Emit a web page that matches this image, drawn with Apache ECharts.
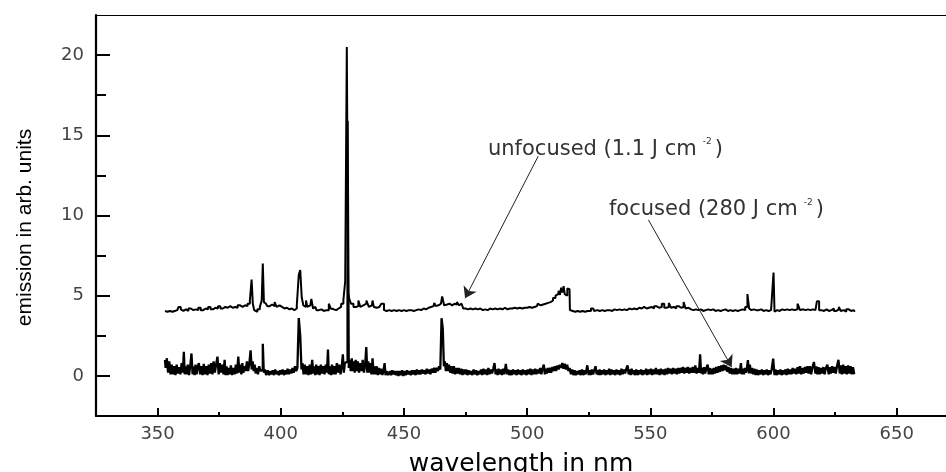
<!DOCTYPE html>
<html>
<head>
<meta charset="utf-8">
<script src="https://cdn.jsdelivr.net/npm/echarts@6/dist/echarts.min.js"></script>
<style>
html,body{margin:0;padding:0;background:#fff;}
#chart{width:946px;height:472px;}
</style>
</head>
<body>
<div id="chart"></div>
<script>
// ---- data (wavelength nm, emission arb. units) ----
const unfocused = [
[353,4.05],[354,4.0],[355,4.05],[356,4.0],[357,4.05],[358,4.1],[359,4.3],[359.8,4.15],[360.5,4.05],[361,4.15],
[362,4.05],[363,4.2],[364,4.1],[365,4.15],[366,4.1],[367,4.25],[368,4.1],[369,4.2],[370,4.15],[371,4.3],
[372,4.15],[373,4.25],[374,4.2],[375,4.35],[376,4.2],[377,4.3],[378,4.25],[379,4.35],[380,4.25],[381,4.3],
[382,4.25],[383,4.4],[384,4.3],[385,4.4],[386,4.35],[387,4.5],[387.9,4.7],[388.4,6.0],[388.9,4.5],[389.5,4.1],
[390,4.0],[391,4.15],[392,4.3],[392.5,4.7],[392.9,7.0],[393.4,4.6],[394,4.5],[395,4.35],[396,4.45],[397,4.35],
[398,4.6],[398.6,4.3],[399,4.4],[400,4.3],[401,4.2],[402,4.25],[403,4.15],[404,4.2],[405,4.1],[406,4.2],
[407,4.4],[407.6,6.3],[408.2,6.6],[408.8,4.9],[409.5,4.4],[410,4.3],[410.5,4.7],[411,4.3],[412,4.4],[412.8,4.8],
[413.4,4.2],[414,4.3],[415,4.1],[416,4.15],[417,4.05],[418,4.1],[419,4.1],[420,4.5],[420.6,4.2],[421,4.15],
[422,4.1],[423,4.2],[424,4.3],[425,4.5],[425.8,4.7],[426.5,5.9],[427.1,20.5],[427.6,5.2],[428,4.8],[429,4.5],
[430,4.3],[431,4.35],[432,4.7],[432.6,4.3],[433,4.4],[434,4.5],[435.5,4.7],[436,4.3],[437,4.4],[437.5,4.7],
[438,4.3],[439,4.25],[440,4.3],[441.6,4.5],[442.2,4.1],[443,4.05],[444,4.1],[445,4.05],[446,4.1],[447,4.05],
[448,4.1],[449,4.05],[450,4.1],[451,4.05],[452,4.1],[453,4.1],[454,4.05],[455,4.1],[456,4.15],[457,4.1],
[458,4.2],[459,4.15],[460,4.25],[461,4.3],[462,4.35],[462.6,4.55],[463.2,4.35],[464,4.4],[465,4.5],[466,4.95],
[466.6,4.4],[467,4.45],[468,4.5],[469,4.6],[469.6,4.4],[470,4.5],[471,4.45],[472,4.6],[472.6,4.4],[473,4.5],
[473.8,4.6],[474.3,4.2],[475,4.2],[476,4.15],[477,4.2],[478,4.15],[479,4.2],[480,4.15],[481,4.2],[482,4.1],
[483,4.15],[484,4.1],[485,4.2],[486,4.15],[487,4.2],[488,4.15],[489,4.2],[490,4.15],[491,4.25],[492,4.15],
[493,4.2],[494,4.2],[495,4.25],[496,4.2],[497,4.25],[498,4.2],[499,4.25],[500,4.25],[501,4.3],[502,4.25],
[503,4.3],[504,4.35],[504.5,4.5],[505,4.4],[506,4.45],[507,4.5],[508,4.55],[509,4.6],[510,4.7],[511,4.85],
[512,5.0],[512.6,5.1],[513,5.3],[513.6,5.05],[514,5.5],[514.6,5.2],[515,5.6],[515.5,5.1],[516,5.0],[516.6,5.45],
[517.2,5.4],[517.5,4.1],[518,4.05],[519,4.0],[520,4.05],[521,4.0],[522,4.05],[523,4.0],[524,4.05],[525,4.05],
[526.8,4.2],[527.5,4.05],[528,4.1],[529,4.05],[530,4.1],[531,4.05],[532,4.1],[533,4.1],[534,4.05],[535,4.15],
[536,4.1],[537,4.15],[538,4.1],[539,4.15],[540,4.1],[541,4.2],[542,4.15],[543,4.2],[544,4.15],[545,4.25],
[546,4.2],[547,4.3],[548,4.2],[549,4.25],[550,4.3],[551,4.2],[552,4.35],[553,4.25],[554,4.3],[555.3,4.5],
[556,4.25],[557,4.3],[558,4.55],[558.6,4.25],[559,4.3],[560,4.2],[561,4.35],[562,4.25],[563,4.3],[564,4.6],
[564.6,4.2],[565,4.25],[566,4.15],[567,4.1],[568,4.15],[569,4.1],[570,4.15],[571,4.05],[572,4.1],[573,4.15],
[574,4.1],[575,4.15],[576,4.05],[577,4.1],[578,4.05],[579,4.1],[580,4.15],[581,4.05],[582,4.1],[583,4.05],
[584,4.1],[585,4.05],[586,4.1],[587,4.15],[588,4.1],[589,4.3],[589.8,5.1],[590.4,4.2],[591,4.1],[592,4.15],
[593,4.1],[594,4.1],[595,4.15],[596,4.05],[597,4.1],[598,4.05],[599,4.1],[599.8,4.05],[600.2,6.45],[600.6,4.0],
[601,4.1],[602,4.05],[603,4.15],[604,4.1],[605,4.15],[606,4.1],[607,4.15],[608,4.1],[609,4.15],[610.5,4.5],
[611,4.1],[612,4.15],[613,4.1],[614,4.15],[615,4.1],[616,4.15],[617,4.1],[618.2,4.65],[618.8,4.1],[619,4.1],
[620,4.05],[621,4.15],[622,4.05],[623,4.1],[624,4.2],[625,4.05],[626,4.15],[627,4.3],[627.6,4.05],[628,4.1],
[629,4.0],[630,4.15],[631,4.05],[632,4.1],[633,4.0]
];

const focused = [
[353,1.0],[353.5,0.5],[354,1.1],[354.5,0.2],[355,0.9],[355.5,0.1],[356,0.7],[356.5,0.1],[357,0.6],[357.5,0.05],
[358,0.7],[358.5,0.15],[359,0.55],[359.5,0.1],[360,0.8],[360.5,0.2],[360.8,1.5],[361.2,0.1],[361.5,0.6],[362,0.1],
[362.5,0.7],[363,0.05],[363.5,0.6],[364,1.4],[364.4,0.1],[364.8,0.6],[365.2,0.05],[365.6,0.7],[366,0.1],[366.5,0.55],
[367,0.8],[367.5,0.1],[368,0.6],[368.5,0.05],[369,0.75],[369.5,0.1],[370,0.6],[370.5,0.05],[371,0.7],[371.5,0.15],
[372,0.8],[372.5,0.1],[373,0.9],[373.5,0.2],[374,0.7],[374.6,1.2],[375,0.1],[375.5,0.8],[376,0.2],[376.5,0.7],
[377,0.1],[377.4,1.0],[377.8,0.05],[378.2,0.6],[378.6,0.05],[379,0.5],[379.5,0.1],[380,0.65],[380.5,0.05],[381,0.5],
[381.5,0.1],[382,0.7],[382.5,0.15],[383,1.2],[383.4,0.2],[383.8,0.7],[384.2,0.1],[384.6,0.8],[385,0.2],[385.5,0.6],
[386,0.3],[386.5,0.9],[387,0.3],[387.5,0.8],[388,1.6],[388.4,0.4],[388.8,0.9],[389.2,0.3],[389.6,0.7],[390,0.15],
[390.5,0.5],[391,0.1],[391.5,0.6],[392,0.3],[392.5,0.4],[392.9,2.0],[393.3,0.2],[393.8,0.4],[394.3,0.05],[395,0.35],
[395.5,0.05],[396,0.3],[396.5,0.1],[397,0.35],[397.5,0.05],[398,0.4],[398.5,0.1],[399,0.3],[399.5,0.05],[400,0.35],
[400.5,0.1],[401,0.4],[401.5,0.05],[402,0.35],[402.5,0.1],[403,0.45],[403.5,0.1],[404,0.4],[404.5,0.15],[405,0.5],
[405.5,0.2],[406,0.6],[406.5,0.3],[407,0.5],[407.6,3.6],[408.2,2.5],[408.6,0.4],[409,0.8],[409.5,0.1],[410,0.7],
[410.5,0.1],[411,0.6],[411.5,0.05],[412,0.7],[412.5,0.1],[413,1.0],[413.4,0.15],[413.8,0.6],[414.2,0.05],[414.6,0.7],
[415,0.1],[415.5,0.6],[416,0.05],[416.5,0.7],[417,0.15],[417.5,0.6],[418,0.1],[418.5,0.7],[419,0.2],[419.3,1.65],
[419.7,0.1],[420.2,0.6],[420.6,0.05],[421,0.7],[421.5,0.1],[422,0.6],[422.5,0.1],[423,0.8],[423.5,0.2],[424,0.7],
[424.5,0.1],[425,0.6],[425.4,1.35],[425.8,0.2],[426.2,0.8],[426.8,0.9],[427.4,15.9],[427.8,0.5],[428.2,1.0],[428.6,0.3],
[429,1.1],[429.4,0.3],[429.8,0.9],[430.2,0.2],[430.6,1.0],[431,0.3],[431.5,0.9],[432,0.2],[432.5,0.8],[433,0.3],
[433.5,1.0],[434,0.2],[434.5,0.7],[434.9,1.8],[435.3,0.2],[435.7,0.9],[436.1,0.2],[436.6,0.8],[437,0.1],[437.5,1.1],
[437.9,0.1],[438.3,0.6],[438.7,0.1],[439.2,0.6],[439.6,0.05],[440,0.5],[440.5,0.1],[441,0.45],[441.5,0.05],[442,0.4],
[442.3,0.8],[442.7,0.05],[443.2,0.3],[444,0.05],[444.5,0.3],[445,0.05],[445.5,0.35],[446,0.1],[446.5,0.3],[447,0.05],
[447.5,0.3],[448,0.0],[448.5,0.3],[449,0.05],[449.5,0.35],[450,0.0],[450.5,0.3],[451,0.05],[451.5,0.35],[452,0.1],
[452.5,0.3],[453,0.05],[453.5,0.35],[454,0.1],[454.5,0.35],[455,0.05],[455.5,0.4],[456,0.1],[456.5,0.35],[457,0.1],
[457.5,0.4],[458,0.15],[458.5,0.35],[459,0.1],[459.5,0.45],[460,0.15],[460.5,0.4],[461,0.1],[461.5,0.45],[462,0.2],
[462.5,0.5],[463,0.2],[463.5,0.5],[464,0.3],[464.5,0.6],[465,0.4],[465.5,3.6],[466,2.95],[466.4,0.6],[466.8,0.9],
[467.2,0.3],[467.6,0.8],[468,0.3],[468.5,0.7],[469,0.2],[469.5,0.6],[470,0.15],[470.5,0.6],[471,0.1],[471.5,0.5],
[472,0.15],[472.5,0.5],[473,0.1],[473.5,0.45],[474,0.05],[474.5,0.4],[475,0.1],[475.5,0.4],[476,0.05],[476.5,0.35],
[477,0.1],[477.5,0.3],[478,0.05],[478.5,0.4],[479,0.1],[479.5,0.35],[480,0.05],[480.5,0.3],[481,0.1],[481.5,0.4],
[482,0.05],[482.5,0.45],[483,0.1],[483.5,0.4],[484,0.05],[484.5,0.5],[485,0.1],[485.5,0.4],[486,0.15],[486.5,0.45],
[487,0.8],[487.4,0.1],[487.8,0.4],[488.2,0.05],[488.6,0.45],[489,0.1],[489.5,0.4],[490,0.05],[490.5,0.45],[491,0.1],
[491.7,0.75],[492.1,0.1],[492.5,0.4],[493,0.05],[493.5,0.35],[494,0.05],[494.5,0.4],[495,0.1],[495.5,0.35],[496,0.05],
[496.5,0.4],[497,0.1],[497.5,0.35],[498,0.05],[498.5,0.4],[499,0.1],[499.5,0.35],[500,0.05],[500.5,0.4],[501,0.1],
[501.5,0.45],[502,0.05],[502.5,0.4],[503,0.1],[503.5,0.45],[504,0.1],[504.5,0.4],[505,0.15],[505.5,0.5],[506,0.1],
[506.5,0.45],[507,0.7],[507.4,0.1],[507.8,0.45],[508.2,0.15],[508.6,0.5],[509,0.2],[509.5,0.5],[510,0.2],[510.5,0.55],
[511,0.3],[511.5,0.6],[512,0.3],[512.5,0.65],[513,0.4],[513.5,0.7],[514,0.5],[514.5,0.8],[515,0.45],[515.5,0.75],
[516,0.4],[516.5,0.7],[517,0.3],[517.5,0.5],[518,0.1],[518.5,0.4],[519,0.05],[519.5,0.35],[520,0.05],[520.5,0.3],
[521,0.1],[521.5,0.35],[522,0.05],[522.5,0.4],[523,0.05],[523.5,0.35],[524,0.1],[524.8,0.66],[525.2,0.05],[525.6,0.35],
[526,0.05],[526.5,0.4],[527,0.1],[527.5,0.35],[528,0.6],[528.4,0.1],[528.8,0.35],[529.2,0.05],[529.6,0.4],[530,0.05],
[530.5,0.35],[531,0.1],[531.5,0.4],[532,0.05],[532.5,0.35],[533,0.1],[533.5,0.45],[534,0.05],[534.5,0.4],[535,0.1],
[535.5,0.35],[536,0.05],[536.5,0.4],[537,0.1],[537.5,0.35],[538,0.05],[538.5,0.45],[539,0.1],[539.5,0.4],[540,0.15],
[540.5,0.45],[541,0.66],[541.4,0.1],[541.8,0.4],[542.2,0.05],[542.6,0.45],[543,0.1],[543.5,0.35],[544,0.05],[544.5,0.4],
[545,0.05],[545.5,0.35],[546,0.1],[546.5,0.4],[547,0.05],[547.5,0.35],[548,0.1],[548.5,0.45],[549,0.05],[549.5,0.4],
[550,0.1],[550.5,0.45],[551,0.05],[551.5,0.4],[552,0.1],[552.5,0.5],[553,0.1],[553.5,0.4],[554,0.05],[554.5,0.45],
[555,0.1],[555.5,0.4],[556,0.05],[556.5,0.45],[557,0.1],[557.5,0.5],[558,0.15],[558.5,0.45],[559,0.1],[559.5,0.5],
[560,0.15],[560.5,0.45],[561,0.1],[561.5,0.5],[562,0.15],[562.5,0.5],[563,0.2],[563.5,0.55],[564,0.15],[564.5,0.5],
[565,0.2],[565.5,0.55],[566,0.15],[566.5,0.5],[567,0.2],[567.5,0.55],[568,0.2],[568.5,0.65],[569,0.15],[569.5,0.5],
[570,0.2],[570.4,1.34],[570.8,0.15],[571.2,0.5],[571.6,0.1],[572,0.55],[572.5,0.15],[573,0.5],[573.5,0.7],[573.9,0.1],
[574.3,0.5],[574.7,0.1],[575.1,0.45],[575.5,0.1],[576,0.5],[576.5,0.15],[577,0.55],[577.5,0.2],[578,0.6],[578.5,0.25],
[579,0.65],[579.5,0.3],[580,0.7],[580.5,0.35],[581,0.65],[581.5,0.25],[582,0.55],[582.5,0.15],[583,0.5],[583.5,0.1],
[584,0.45],[584.5,0.1],[585,0.5],[585.5,0.1],[586,0.45],[586.5,0.15],[587,0.8],[587.4,0.1],[587.8,0.45],[588.2,0.1],
[588.6,0.5],[589,0.2],[589.4,0.5],[589.8,0.98],[590.2,0.15],[590.6,0.7],[591,0.15],[591.5,0.5],[592,0.1],[592.5,0.45],
[593,0.05],[593.5,0.4],[594,0.05],[594.5,0.35],[595,0.1],[595.5,0.4],[596,0.05],[596.5,0.35],[597,0.1],[597.5,0.4],
[598,0.05],[598.5,0.35],[599,0.1],[599.5,0.4],[600.2,1.08],[600.6,0.05],[601,0.4],[601.5,0.05],[602,0.35],[602.5,0.1],
[603,0.4],[603.5,0.05],[604,0.35],[604.5,0.1],[605,0.4],[605.5,0.05],[606,0.45],[606.5,0.1],[607,0.4],[607.5,0.1],
[608,0.5],[608.5,0.15],[609,0.45],[609.5,0.1],[610,0.55],[610.5,0.15],[611,0.6],[611.5,0.1],[612,0.5],[612.5,0.15],
[613,0.55],[613.5,0.2],[614,0.6],[614.5,0.15],[615,0.6],[615.5,0.1],[616,0.5],[616.8,0.87],[617.2,0.15],[617.6,0.6],
[618,0.1],[618.5,0.55],[619,0.1],[619.5,0.5],[620,0.15],[620.5,0.55],[621,0.1],[621.5,0.5],[622.2,0.7],[622.6,0.1],
[623,0.55],[623.5,0.15],[624,0.6],[624.5,0.2],[625,0.55],[625.5,0.15],[626,0.6],[626.7,1.0],[627.1,0.15],[627.5,0.65],
[628,0.1],[628.5,0.7],[629,0.15],[629.5,0.6],[630,0.1],[630.5,0.65],[631,0.15],[631.5,0.6],[632,0.1],[632.5,0.55],
[633,0.1]
];

const xMajorTicks = [350, 400, 450, 500, 550, 600, 650];
const xMinorTicks = [375, 425, 475, 525, 575, 625];
const yMajorTicks = [0, 5, 10, 15, 20];
const yMinorTicks = [2.5, 7.5, 12.5, 17.5];

// annotation arrows: [from, to] in data coords
const arrowUnfocused = [[504.5, 13.7], [474.8, 4.84]];
const arrowFocused = [[549.2, 9.73], [583.0, 0.56]];
const labelUnfocusedAt = [484.1, 14.17];
const labelFocusedAt = [533.2, 10.42];

const chart = echarts.init(document.getElementById('chart'));
const tickFont = { fontFamily: 'DejaVu Sans', fontSize: 18, color: '#444' };
const annRich = {
  a: { fontFamily: 'DejaVu Sans', fontSize: 21, color: '#333', verticalAlign: 'bottom', lineHeight: 22 },
  s: { fontFamily: 'DejaVu Sans', fontSize: 9, color: '#333', verticalAlign: 'top', lineHeight: 10, padding: [0, 3, 20, 6] }
};

chart.setOption({
  backgroundColor: '#fff',
  animation: false,
  grid: { left: 96, right: 0, top: 15, bottom: 56, containLabel: false, outerBoundsMode: 'none' },
  xAxis: [
    {
      type: 'value', min: 325, max: 670, position: 'bottom',
      axisLine: { onZero: false, lineStyle: { color: '#000', width: 2.2 } },
      axisTick: { inside: true, length: 8, customValues: xMajorTicks, lineStyle: { color: '#000', width: 2 } },
      axisLabel: Object.assign({ customValues: xMajorTicks, margin: 9 }, tickFont),
      splitLine: { show: false },
      name: 'wavelength in nm', nameLocation: 'middle', nameGap: 36, nameMoveOverlap: false,
      nameTextStyle: { fontFamily: 'DejaVu Sans', fontSize: 25, color: '#000' }
    },
    {
      type: 'value', min: 325, max: 670, position: 'bottom',
      axisLine: { show: false, onZero: false },
      axisTick: { inside: true, length: 4, customValues: xMinorTicks, lineStyle: { color: '#000', width: 2 } },
      axisLabel: { show: false },
      splitLine: { show: false }
    },
    {
      type: 'value', min: 325, max: 670, position: 'top',
      axisLine: { onZero: false, lineStyle: { color: '#000', width: 1 } },
      axisTick: { show: false }, axisLabel: { show: false }, splitLine: { show: false }
    }
  ],
  yAxis: [
    {
      type: 'value', min: -2.5, max: 22.5, position: 'left',
      axisLine: { onZero: false, lineStyle: { color: '#000', width: 2.2 } },
      axisTick: { inside: true, length: 14, customValues: yMajorTicks, lineStyle: { color: '#000', width: 2 } },
      axisLabel: Object.assign({ customValues: yMajorTicks, margin: 12 }, tickFont),
      splitLine: { show: false },
      name: 'emission in arb. units', nameLocation: 'middle', nameGap: 60, nameRotate: 90, nameMoveOverlap: false,
      nameTextStyle: { fontFamily: 'Liberation Sans', fontSize: 21, color: '#000', padding: [0, 24, 0, 0] }
    },
    {
      type: 'value', min: -2.5, max: 22.5, position: 'left',
      axisLine: { show: false, onZero: false },
      axisTick: { inside: true, length: 10, customValues: yMinorTicks, lineStyle: { color: '#000', width: 2 } },
      axisLabel: { show: false },
      splitLine: { show: false }
    }
  ],
  series: [
    {
      name: 'focused (280 J cm-2)', type: 'line', xAxisIndex: 0, yAxisIndex: 0, step: 'middle',
      data: focused, showSymbol: false, symbol: 'none', silent: true,
      lineStyle: { color: '#000', width: 2.3 }
    },
    {
      name: 'unfocused (1.1 J cm-2)', type: 'line', xAxisIndex: 0, yAxisIndex: 0, step: 'middle',
      data: unfocused, showSymbol: false, symbol: 'none', silent: true,
      lineStyle: { color: '#000', width: 2 },
      markLine: {
        silent: true, animation: false,
        symbol: ['none', 'arrow'], symbolSize: 11,
        label: { show: false },
        lineStyle: { color: '#222', width: 1, type: 'solid' },
        emphasis: { disabled: true },
        data: [
          [{ coord: arrowUnfocused[0] }, { coord: arrowUnfocused[1] }],
          [{ coord: arrowFocused[0] }, { coord: arrowFocused[1] }]
        ]
      },
      markPoint: {
        silent: true, animation: false,
        symbol: 'circle', symbolSize: 0,
        data: [
          { coord: labelUnfocusedAt, label: { show: true, position: 'right', distance: 0,
            formatter: '{a|unfocused (1.1 J cm}{s|-2}{a|)}', rich: annRich } },
          { coord: labelFocusedAt, label: { show: true, position: 'right', distance: 0,
            formatter: '{a|focused (280 J cm}{s|-2}{a|)}', rich: annRich } }
        ]
      }
    }
  ]
});
</script>
</body>
</html>
